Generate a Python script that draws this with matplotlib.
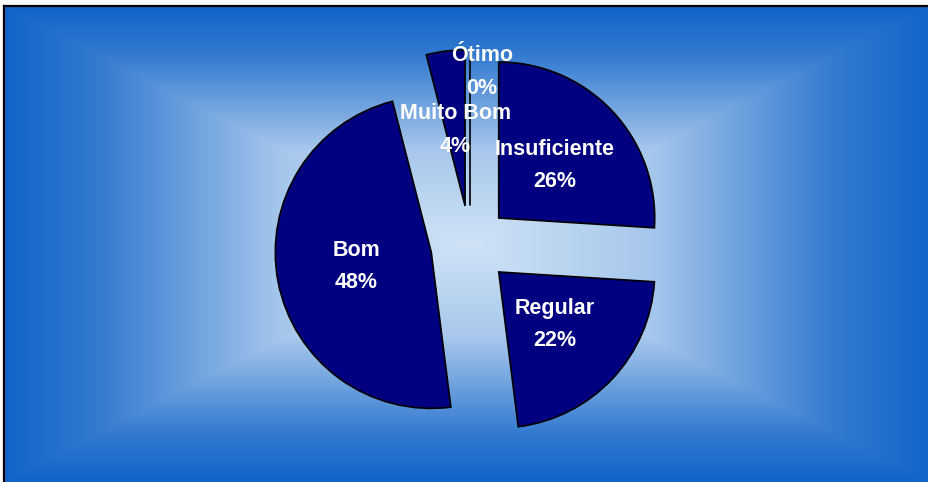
import numpy as np
import matplotlib
matplotlib.use("Agg")
import matplotlib.pyplot as plt

# ---- data ----
categories = ["Insuficiente", "Regular", "Bom", "Muito Bom", "Ótimo"]
values = [26, 22, 48, 4, 0]
pct_labels = ["26%", "22%", "48%", "4%", "0%"]

# ---- style ----
W, H = 929, 482
slice_color = "#000080"
edge_rgb = np.array([18, 100, 200]) / 255.0
center_rgb = np.array([208, 227, 246]) / 255.0

plt.rcParams['font.family'] = ['Liberation Sans', 'DejaVu Sans']

fig = plt.figure(figsize=(W / 100, H / 100), dpi=100, facecolor="white")
ax = fig.add_axes([0, 0, 1, 1])

# rectangular "from centre" gradient background
x0, x1, y0, y1 = 4, W, 0, H - 6
nx, ny = 800, 420
xs = np.linspace(-1, 1, nx)
ys = np.linspace(-1, 1, ny)
XX, YY = np.meshgrid(xs, ys)
u = 1 - np.maximum(np.abs(XX), np.abs(YY))
s = np.interp(u, [0, 0.2, 0.3, 0.6, 1.0], [0, 0.17, 0.32, 0.78, 1.0])
img = edge_rgb[None, None, :] + (center_rgb - edge_rgb)[None, None, :] * s[..., None]
ax.imshow(img, extent=(x0, x1, y0, y1), origin="lower", aspect="auto",
          interpolation="bilinear", zorder=0)
ax.plot([x0, x0], [y0, y1], color="black", lw=1.6, zorder=1, solid_capstyle="projecting")
ax.plot([x0, x1], [y1, y1], color="black", lw=1.6, zorder=1, solid_capstyle="projecting")

radius = 156
center = (470, H - 245)
explode = [39.4] * len(values)
labels = [f"{c}\n{p}" for c, p in zip(categories, pct_labels)]

wedges, texts = ax.pie(values, labels=labels, explode=explode, center=center,
                       radius=radius, startangle=90, counterclock=False,
                       colors=[slice_color] * len(values), labeldistance=0.49,
                       wedgeprops=dict(edgecolor="black", linewidth=1.2),
                       textprops=dict(color="white", fontsize=15.5,
                                      fontweight="bold", linespacing=1.72),
                       normalize=True)
for tx in texts:
    tx.set_ha("center")
    tx.set_va("center")
    tx.set_zorder(5)

# Ótimo label sits further out
w = wedges[4]
ang = np.deg2rad(85)
texts[4].set_position((w.center[0] + 0.86 * w.r * np.cos(ang),
                       w.center[1] + 0.86 * w.r * np.sin(ang)))

ax.set_xlim(0, W)
ax.set_ylim(0, H)
ax.set_aspect("auto")
ax.axis("off")

fig.savefig("out.png", dpi=100, facecolor="white")
